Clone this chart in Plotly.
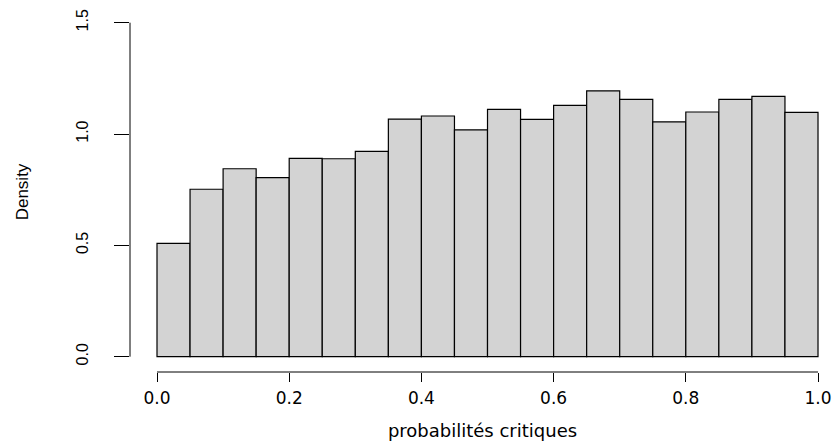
import plotly.graph_objects as go

bin_edges = [i * 0.05 for i in range(21)]
densities = [0.509, 0.752, 0.844, 0.804, 0.891, 0.889, 0.922, 1.067, 1.081, 1.019,
             1.111, 1.066, 1.129, 1.194, 1.156, 1.055, 1.099, 1.156, 1.169, 1.097]
x_ticks = [0.0, 0.2, 0.4, 0.6, 0.8, 1.0]
x_tick_labels = ["0.0", "0.2", "0.4", "0.6", "0.8", "1.0"]
y_ticks = [0.0, 0.5, 1.0, 1.5]
y_tick_labels = ["0.0", "0.5", "1.0", "1.5"]

centers = [(bin_edges[i] + bin_edges[i + 1]) / 2 for i in range(len(densities))]
widths = [bin_edges[i + 1] - bin_edges[i] for i in range(len(densities))]

fig = go.Figure(go.Bar(
    x=centers, y=densities, width=widths,
    marker=dict(color="#D3D3D3", line=dict(color="black", width=1.2)),
    hoverinfo="x+y",
))

fig.update_layout(
    width=835, height=445,
    margin=dict(l=130, r=0, t=12, b=73),
    plot_bgcolor="white", paper_bgcolor="white",
    showlegend=False,
    font=dict(family="DejaVu Sans", color="black"),
    xaxis=dict(
        range=[-0.04085, 1.0257], tickvals=x_ticks, ticktext=x_tick_labels,
        ticks="outside", ticklen=9, tickwidth=1, tickcolor="black",
        showgrid=False, zeroline=False, showline=False,
        tickfont=dict(family="DejaVu Sans", size=17), ticklabelstandoff=2,
        ticklabeloverflow="allow",
        title=dict(text="probabilités critiques", font=dict(family="DejaVu Sans", size=18), standoff=16),
    ),
    yaxis=dict(
        range=[-0.0687, 1.548], tickvals=y_ticks, ticktext=y_tick_labels,
        ticks="outside", ticklen=15, tickwidth=1, tickcolor="black",
        showgrid=False, zeroline=False, showline=False, tickangle=-90,
        tickfont=dict(family="Liberation Sans Narrow, Liberation Sans", size=16),
        ticklabelstandoff=20,
        title=dict(text="Density", font=dict(family="Liberation Sans Narrow, Liberation Sans", size=17), standoff=40),
    ),
    shapes=[
        dict(type="line", xref="x", yref="paper", x0=0, x1=1, y0=0, y1=0,
             line=dict(color="black", width=1)),
        dict(type="line", xref="paper", yref="y", x0=0, x1=0, y0=0, y1=1.5,
             line=dict(color="black", width=1)),
    ],
)

fig.write_html("out.html", config={"displayModeBar": False},
               post_script="document.body.style.margin='0';")
